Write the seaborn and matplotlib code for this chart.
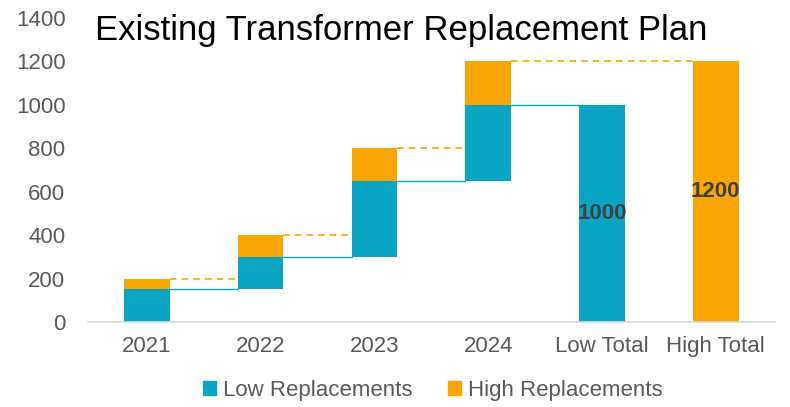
import numpy as np
import pandas as pd
import matplotlib
matplotlib.use('Agg')
import matplotlib.pyplot as plt
import seaborn as sns
from matplotlib.patches import Patch

# Données du graphique
categories = ['2021', '2022', '2023', '2024', 'Low Total', 'High Total']
low_heights = [150, 150, 350, 350, 1000, 0]
low_bottoms = [0, 150, 300, 650, 0, 0]
high_heights = [50, 100, 150, 200, 0, 1200]
high_bottoms = [150, 300, 650, 1000, 0, 0]
total_labels = {'Low Total': 1000, 'High Total': 1200}

teal = '#0AA5C2'
orange = '#F9A602'
gray = '#595959'

sns.set_theme(style='white')
plt.rcParams['font.family'] = ['Liberation Sans', 'DejaVu Sans']

fig = plt.figure(figsize=(7.9, 4.07), dpi=100)
ax = fig.add_axes([0.111, 0.209, 0.87, 0.747])

df_low = pd.DataFrame({'cat': categories, 'h': low_heights})
df_high = pd.DataFrame({'cat': categories, 'h': high_heights})

w = 0.4
sns.barplot(data=df_low, x='cat', y='h', order=categories, color=teal,
            saturation=1, width=w, bottom=low_bottoms, errorbar=None,
            linewidth=0, ax=ax)
sns.barplot(data=df_high, x='cat', y='h', order=categories, color=orange,
            saturation=1, width=w, bottom=high_bottoms, errorbar=None,
            linewidth=0, ax=ax)

# Lignes de liaison (waterfall)
for i in range(4):
    low_top = low_bottoms[i] + low_heights[i]
    high_top = high_bottoms[i] + high_heights[i]
    nxt = i + 1 if i < 3 else 4
    ax.plot([i + w / 2, nxt - w / 2], [low_top, low_top], color=teal, lw=1, zorder=1)
    nxt_h = i + 1 if i < 3 else 5
    ax.plot([i + w / 2, nxt_h - w / 2], [high_top, high_top], color=orange,
            lw=1.2, ls=(0, (4, 3)), zorder=1)

for name, val in total_labels.items():
    idx = categories.index(name)
    ax.text(idx, val / 2, str(val), ha='center', va='center', fontsize=16,
            fontweight='bold', color='#404040')

ax.set_ylim(0, 1400)
ax.set_xlim(-0.52, 5.52)
ax.set_yticks(range(0, 1401, 200))
ax.set_xlabel('')
ax.set_ylabel('')
ax.tick_params(axis='both', colors=gray, labelsize=16, length=0)
ax.tick_params(axis='x', pad=10)
ax.tick_params(axis='y', pad=16)
for s in ['top', 'right', 'left']:
    ax.spines[s].set_visible(False)
ax.spines['bottom'].set_color('#D9D9D9')
ax.spines['bottom'].set_linewidth(1.2)

fig.text(0.12, 0.925, 'Existing Transformer Replacement Plan', fontsize=25,
         color='black', ha='left', va='center')

handles = [Patch(color=teal, label='Low Replacements'),
           Patch(color=orange, label='High Replacements')]
fig.legend(handles=handles, loc='center', bbox_to_anchor=(0.548, 0.04), ncol=2,
           frameon=False, fontsize=16, labelcolor=gray, handlelength=0.6,
           handleheight=0.6, handletextpad=0.3, columnspacing=1.6)

fig.savefig('out.png', dpi=100)
